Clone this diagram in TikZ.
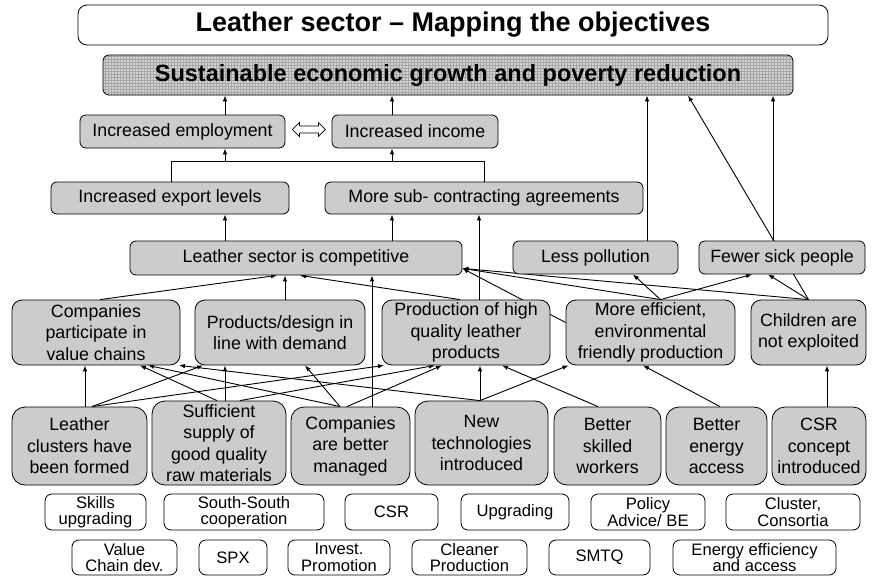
\documentclass[tikz,border=0pt]{standalone}
\usepackage{fontspec}
\setmainfont{Liberation Sans}
\usetikzlibrary{arrows.meta,patterns,calc}
\pgfdeclarelayer{bg}
\pgfsetlayers{bg,main}
\newcommand\bx[7]{\node[#1, minimum width={#5-#3}, minimum height={#6-#4}] (#2) at ({(#3+#5)/2},{(#4+#6)/2}) {#7};}
\tikzset{
  base/.style={draw, line width=0.8pt, align=center, inner sep=0pt},
  gbox/.style={base, fill=gray!40, rounded corners=6pt, font=\fontsize{17.8}{21.5}\selectfont},
  gboxb/.style={gbox, rounded corners=10pt},
  gboxc/.style={gbox, rounded corners=13pt},
  wbox/.style={base, fill=white, rounded corners=7pt, font=\fontsize{16.6}{16.5}\selectfont},
  tbox/.style={base, fill=white, rounded corners=9pt, font=\fontsize{27}{32}\selectfont\bfseries},
  sbox/.style={base, rounded corners=6pt, preaction={fill=gray!35}, pattern=grid, pattern color=gray!70, font=\fontsize{23.5}{28}\selectfont\bfseries},
  arr/.style={line width=0.9pt, -{Latex[length=6pt,width=4.5pt]}},
  ln/.style={line width=0.9pt},
}
\begin{document}
\begin{tikzpicture}[x=1pt,y=-1pt]
\useasboundingbox (0,0) rectangle (875,578);
% title and goal
\bx{tbox}{title}{78}{5}{828}{45}{Leather sector -- Mapping the objectives}
\bx{sbox}{sust}{103}{55}{793}{95}{Sustainable economic growth and poverty reduction}
% level 1
\bx{gbox}{emp}{80}{115}{285}{148}{Increased employment}
\bx{gbox}{inc}{332}{115}{498}{148}{Increased income}
% level 2
\bx{gbox}{export}{51}{182}{289}{214}{Increased export levels}
\bx{gbox}{more}{325}{182}{643}{214}{More sub- contracting agreements}
% level 3
\bx{gbox}{comp}{130}{241}{462}{275}{Leather sector is competitive}
\bx{gbox}{less}{513}{241}{678}{274}{Less pollution}
\bx{gbox}{fewer}{699}{241}{865}{274}{Fewer sick people}
% level 4
\bx{gboxb}{cp}{12}{300}{180}{365}{Companies\\participate in\\value chains}
\bx{gboxb}{pd}{195}{300}{365}{365}{Products/design in\\line with demand}
\bx{gboxb}{prod}{382}{300}{550}{365}{Production of high\\quality leather\\products}
\bx{gboxb}{me}{566}{300}{735}{365}{More efficient,\\environmental\\friendly production}
\bx{gboxb}{child}{751}{300}{866}{365}{Children are\\not exploited}
% level 5
\bx{gboxc}{lc}{12}{407}{147}{485}{Leather\\clusters have\\been formed}
\bx{gboxc}{ss}{152}{401}{286}{485}{Sufficient\\supply of\\good quality\\raw materials}
\bx{gboxc}{cbm}{291}{407}{410}{485}{Companies\\are better\\managed}
\bx{gboxc}{nt}{415}{401}{548}{485}{New\\technologies\\introduced}
\bx{gboxc}{bsw}{554}{407}{661}{485}{Better\\skilled\\workers}
\bx{gboxc}{bea}{666}{407}{767}{485}{Better\\energy\\access}
\bx{gboxc}{csr}{772}{407}{866}{485}{CSR\\concept\\introduced}
% instruments row 1
\bx{wbox}{skills}{45}{494}{146}{530}{Skills\\upgrading}
\bx{wbox}{south}{164}{494}{324}{530}{South-South\\cooperation}
\bx{wbox}{csrb}{345}{494}{438}{530}{CSR}
\bx{wbox}{upg}{461}{494}{569}{530}{Upgrading}
\bx{wbox}{policy}{591}{494}{705}{530}{Policy\\Advice/ BE}
\bx{wbox}{cluster}{726}{494}{860}{530}{Cluster,\\Consortia}
% instruments row 2
\bx{wbox}{vcd}{72}{540}{177}{575}{Value\\Chain dev.}
\bx{wbox}{spx}{199}{540}{267}{575}{SPX}
\bx{wbox}{invest}{288}{540}{390}{575}{Invest.\\Promotion}
\bx{wbox}{cleaner}{412}{540}{527}{575}{Cleaner\\Production}
\bx{wbox}{smtq}{549}{540}{650}{575}{SMTQ}
\bx{wbox}{energy}{673}{540}{836}{575}{Energy efficiency\\and access}

% double arrow between employment and income
\draw[line width=0.8pt, fill=white] ([xshift=7pt,yshift=2pt]emp.east) -- ++(7,-7) -- ++(0,3.5) -- ++(19,0) -- ++(0,-3.5) -- ++(7,7) -- ++(-7,7) -- ++(0,-3.5) -- ++(-19,0) -- ++(0,3.5) -- cycle;

\coordinate (xE) at (225,0);
\coordinate (xI) at (392,0);
\coordinate (bus) at (0,161);
\begin{pgfonlayer}{bg}
% upper part
\draw[arr] (emp.north -| xE) -- (sust.south -| xE);
\draw[arr] (inc.north -| xI) -- (sust.south -| xI);
\draw[ln] ([xshift=1pt]export.north) |- (bus -| more.north) -- (more.north);
\draw[arr] (bus -| xE) -- (emp.south -| xE);
\draw[arr] (bus -| xI) -- (inc.south -| xI);
\draw[arr] (comp.north -| xE) -- (export.south -| xE);
\draw[arr] (comp.north -| xI) -- (more.south -| xI);
\draw[arr] ([xshift=13pt]prod.north) -- ([xshift=-5pt]more.south);
\draw[arr] ([xshift=51.5pt]less.north) -- ([xshift=199pt]sust.south);
\draw[arr] ([xshift=-9pt]fewer.north) -- ([xshift=325pt]sust.south);
\draw[arr] (child.north) -- ([xshift=240pt]sust.south);
% level 4 -> level 3
\draw[arr] ([xshift=4pt]cp.north) -- ([xshift=-19pt]comp.south);
\draw[arr] ([xshift=5pt]pd.north) -- ([xshift=-11pt]comp.south);
\draw[arr] ([xshift=21.5pt]cbm.north) -- ([xshift=76pt]comp.south);
\draw[arr] ([xshift=-6pt]prod.north) -- ([xshift=4pt]comp.south);
\draw[arr] ([yshift=10pt]me.west) -- ([yshift=7pt]comp.south east);
\draw[arr] ([xshift=10pt]me.north) -- ([yshift=7pt]comp.south east);
\draw[arr] (child.north) -- ([yshift=7pt]comp.south east);
\draw[arr] ([xshift=10pt]me.north) -- ([xshift=37.5pt]less.south);
\draw[arr] ([xshift=10pt]me.north) -- ([xshift=-30pt]fewer.south);
\draw[arr] (child.north) -- ([xshift=-14pt]fewer.south);
% level 5 -> level 4
\draw[arr] ([xshift=5.5pt]lc.north) -- ([xshift=-11pt]cp.south);
\draw[arr] ([xshift=12.5pt]lc.north) -- ([xshift=-77pt]pd.south);
\draw[arr] ([xshift=12.5pt]lc.north) -- ([xshift=-82pt]prod.south);
\draw[arr] ([xshift=-2pt]ss.north) -- ([xshift=44pt]cp.south);
\draw[arr] ([xshift=6pt]ss.north) -- ([xshift=-55pt]pd.south);
\draw[arr] ([xshift=21pt]ss.north) -- ([xshift=-31pt]prod.south);
\draw[arr] ([xshift=-10.5pt]cbm.north) -- ([xshift=52pt]cp.south);
\draw[arr] ([xshift=-10.5pt]cbm.north) -- ([xshift=25pt]pd.south);
\draw[arr] ([xshift=-3.5pt]cbm.north) -- ([xshift=-24pt]prod.south);
\draw[arr] ([xshift=-1.5pt]nt.north) -- ([xshift=83pt]cp.south);
\draw[arr] ([xshift=-1.5pt]nt.north) -- ([xshift=14pt]prod.south);
\draw[arr] ([xshift=-1.5pt]nt.north) -- ([xshift=-82pt]me.south);
\draw[arr] ([xshift=-9.5pt]bsw.north) -- ([xshift=36pt]prod.south);
\draw[arr] ([xshift=3.5pt]bea.north) -- ([xshift=-7.5pt]me.south);
\draw[arr] ([xshift=8pt]csr.north) -- ([xshift=18.5pt]child.south);
\end{pgfonlayer}
\end{tikzpicture}
\end{document}
